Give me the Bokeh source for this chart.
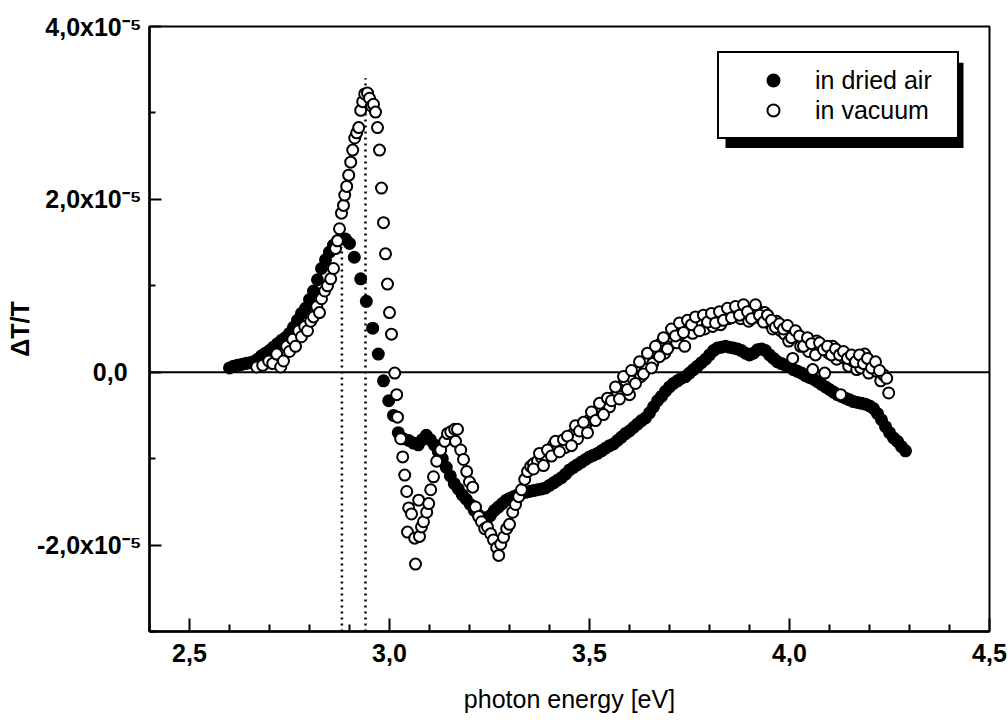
from bokeh.plotting import figure
from bokeh.models import FixedTicker, Span, Legend, LegendItem, BoxAnnotation
from bokeh.embed import file_html
from bokeh.resources import INLINE

# Photon energy in eV, differential transmission dT/T in units of 1e-5
energy_air = [
    2.600, 2.610, 2.620, 2.630, 2.640, 2.650, 2.660, 2.670, 2.680, 2.690,
    2.700, 2.710, 2.720, 2.730, 2.740, 2.750, 2.760, 2.770, 2.780, 2.790,
    2.800, 2.810, 2.820, 2.830, 2.840, 2.850, 2.860, 2.870, 2.880, 2.890,
    2.900, 2.912, 2.928, 2.942, 2.958, 2.972, 2.985, 2.998, 3.010, 3.022,
    3.035, 3.048, 3.060, 3.072, 3.082, 3.092, 3.102, 3.112, 3.122, 3.132,
    3.142, 3.152, 3.162, 3.172, 3.182, 3.192, 3.202, 3.212, 3.222, 3.232,
    3.242, 3.252, 3.262, 3.272, 3.282, 3.292,
    3.30, 3.31, 3.32, 3.33, 3.34, 3.35, 3.36, 3.37, 3.38, 3.39,
    3.40, 3.41, 3.42, 3.43, 3.44, 3.45, 3.46, 3.47, 3.48, 3.49,
    3.50, 3.51, 3.52, 3.53, 3.54, 3.55, 3.56, 3.57, 3.58, 3.59,
    3.60, 3.61, 3.62, 3.63, 3.64, 3.65, 3.66, 3.67, 3.68, 3.69,
    3.70, 3.71, 3.72, 3.73, 3.74, 3.75, 3.76, 3.77, 3.78, 3.79,
    3.80, 3.81, 3.82, 3.83, 3.84, 3.85, 3.86, 3.87, 3.88, 3.89,
    3.90, 3.91, 3.92, 3.93, 3.94, 3.95, 3.96, 3.97, 3.98, 3.99,
    4.00, 4.01, 4.02, 4.03, 4.04, 4.05, 4.06, 4.07, 4.08, 4.09,
    4.10, 4.11, 4.12, 4.13, 4.14, 4.15, 4.16, 4.17, 4.18, 4.19,
    4.20, 4.21, 4.22, 4.23, 4.24, 4.25, 4.26, 4.27, 4.28, 4.29,
]
dtt_air = [
    0.05, 0.07, 0.08, 0.09, 0.10, 0.11, 0.12, 0.15, 0.19, 0.22,
    0.25, 0.29, 0.33, 0.37, 0.40, 0.45, 0.52, 0.60, 0.68, 0.74,
    0.84, 0.94, 1.07, 1.20, 1.30, 1.39, 1.47, 1.52, 1.55, 1.54,
    1.49, 1.33, 1.08, 0.82, 0.51, 0.21, -0.10, -0.33, -0.50, -0.70,
    -0.77, -0.79, -0.82, -0.84, -0.78, -0.73, -0.78, -0.84, -0.92, -1.00,
    -1.10, -1.20, -1.29, -1.35, -1.42, -1.47, -1.53, -1.60, -1.65, -1.68,
    -1.70, -1.66, -1.60, -1.56, -1.52, -1.48,
    -1.46, -1.44, -1.42, -1.40, -1.39, -1.38, -1.37, -1.36, -1.35, -1.34,
    -1.31, -1.28, -1.25, -1.22, -1.18, -1.13, -1.10, -1.07, -1.04, -1.01,
    -0.98, -0.96, -0.94, -0.91, -0.88, -0.85, -0.83, -0.79, -0.75, -0.71,
    -0.68, -0.64, -0.60, -0.56, -0.53, -0.47, -0.40, -0.33, -0.28, -0.22,
    -0.17, -0.13, -0.10, -0.07, -0.05, -0.01, 0.03, 0.07, 0.11, 0.15,
    0.20, 0.25, 0.28, 0.29, 0.30, 0.29, 0.28, 0.27, 0.25, 0.22,
    0.20, 0.22, 0.26, 0.27, 0.25, 0.20, 0.16, 0.12, 0.10, 0.08,
    0.06, 0.03, 0.01, -0.01, -0.04, -0.06, -0.08, -0.11, -0.14, -0.17,
    -0.20, -0.23, -0.26, -0.28, -0.30, -0.32, -0.34, -0.35, -0.36, -0.37,
    -0.39, -0.42, -0.48, -0.55, -0.63, -0.70, -0.76, -0.80, -0.86, -0.91,
]

energy_vac = [
    2.668, 2.683, 2.698, 2.708, 2.718, 2.728, 2.735, 2.743, 2.750, 2.758,
    2.765, 2.773, 2.780, 2.788, 2.795, 2.803, 2.810, 2.818, 2.825, 2.830,
    2.838, 2.845, 2.853, 2.860, 2.865, 2.870, 2.875, 2.880, 2.885, 2.888,
    2.893, 2.898, 2.903, 2.908, 2.913, 2.918, 2.923, 2.928, 2.933, 2.938,
    2.945, 2.950, 2.955, 2.960, 2.965, 2.970, 2.975, 2.980, 2.985, 2.990,
    2.995, 3.000, 3.005, 3.013, 3.018, 3.020, 3.028, 3.033, 3.038, 3.043,
    3.045, 3.048, 3.055, 3.063, 3.065, 3.073, 3.075, 3.080, 3.085, 3.093,
    3.098, 3.103, 3.110, 3.118, 3.128, 3.138, 3.145, 3.153, 3.163, 3.165,
    3.170, 3.178, 3.185, 3.193, 3.200, 3.208, 3.215, 3.223, 3.230, 3.238,
    3.245, 3.253, 3.260, 3.268, 3.273, 3.278, 3.285, 3.293, 3.300, 3.308,
    3.315, 3.323, 3.330, 3.338, 3.345, 3.353, 3.360, 3.370, 3.380, 3.390,
    3.400, 3.410, 3.420, 3.430, 3.440, 3.450, 3.460, 3.470, 3.480, 3.490,
    3.500, 3.510, 3.520, 3.530, 3.540, 3.550, 3.560, 3.570, 3.580, 3.590,
    3.600, 3.608, 3.618, 3.628, 3.638, 3.648, 3.658, 3.668, 3.678, 3.688,
    3.698, 3.708, 3.718, 3.728, 3.738, 3.748, 3.758, 3.768, 3.778, 3.788,
    3.798, 3.808, 3.818, 3.828, 3.838, 3.848, 3.858, 3.868, 3.878, 3.888,
    3.898, 3.908, 3.918, 3.928, 3.938, 3.948, 3.958, 3.968, 3.978, 3.988,
    3.998, 4.008, 4.018, 4.028, 4.038, 4.048, 4.058, 4.068, 4.078, 4.088,
    4.098, 4.108, 4.118, 4.128, 4.138, 4.148, 4.158, 4.168, 4.178, 4.188,
    4.198, 4.208, 4.218, 4.228, 4.235, 4.243, 4.248,
    3.360, 3.375, 3.385, 3.395, 3.405, 3.415, 3.425, 3.435, 3.445, 3.455,
    3.465, 3.475, 3.485, 3.495, 3.505, 3.515, 3.525, 3.535, 3.545, 3.555,
    3.565, 3.575, 3.585, 3.595, 3.605, 3.615, 3.625, 3.635, 3.645, 3.655,
    3.665, 3.675, 3.685, 3.695, 3.705, 3.715, 3.725, 3.735, 3.745, 3.755,
    3.765, 3.775, 3.785, 3.795, 3.805, 3.815, 3.825, 3.835, 3.845, 3.855,
    3.865, 3.875, 3.885, 3.895, 3.905, 3.915, 3.925, 3.935, 3.945, 3.955,
    3.965, 3.975, 3.985, 3.995, 4.005, 4.015, 4.025, 4.035, 4.045, 4.055,
    4.065, 4.075, 4.085, 4.095, 4.105, 4.115, 4.125, 4.135, 4.145, 4.155,
    4.165, 4.175, 4.185, 4.195, 4.205, 4.215, 4.225,
]
dtt_vac = [
    0.06, 0.08, 0.13, 0.10, 0.21, 0.06, 0.13, 0.30, 0.24, 0.38,
    0.30, 0.48, 0.41, 0.53, 0.48, 0.59, 0.64, 0.76, 0.69, 0.85,
    0.94, 1.00, 1.08, 1.20, 1.43, 1.52, 1.66, 1.84, 1.93, 2.05,
    2.15, 2.28, 2.43, 2.57, 2.71, 2.77, 2.83, 3.03, 3.13, 3.22,
    3.23, 3.17, 3.08, 3.10, 3.01, 2.83, 2.57, 2.13, 1.73, 1.37,
    1.02, 0.69, 0.44, -0.01, -0.26, -0.52, -0.77, -0.98, -1.19, -1.38,
    -1.85, -1.57, -1.64, -1.92, -2.22, -1.48, -1.90, -1.79, -1.73, -1.62,
    -1.52, -1.36, -1.21, -1.03, -0.90, -0.80, -0.71, -0.69, -0.66, -0.80,
    -0.66, -0.90, -1.01, -1.15, -1.27, -1.33, -1.56, -1.67, -1.73, -1.81,
    -1.79, -1.87, -1.94, -2.03, -2.12, -1.99, -1.91, -1.81, -1.76, -1.62,
    -1.53, -1.44, -1.36, -1.24, -1.15, -1.09, -1.06, -1.03, -0.99, -0.98,
    -0.90, -0.84, -0.87, -0.83, -0.87, -0.78, -0.71, -0.77, -0.66, -0.62,
    -0.55, -0.51, -0.45, -0.42, -0.36, -0.40, -0.29, -0.23, -0.16, -0.10,
    -0.26, -0.07, 0.01, -0.05, 0.07, 0.15, 0.10, 0.24, 0.33, 0.22,
    0.30, 0.40, 0.34, 0.44, 0.30, 0.50, 0.45, 0.53, 0.59, 0.50,
    0.62, 0.53, 0.63, 0.55, 0.66, 0.62, 0.71, 0.67, 0.62, 0.72,
    0.59, 0.69, 0.73, 0.62, 0.69, 0.57, 0.50, 0.59, 0.48, 0.44,
    0.36, 0.16, 0.45, 0.30, 0.38, 0.24, 0.03, 0.36, 0.27, -0.01,
    0.22, 0.30, 0.15, -0.26, 0.16, 0.07, 0.13, 0.03, 0.05, 0.21,
    -0.01, 0.10, 0.01, -0.10, -0.03, -0.07, -0.24,
    -1.12, -0.94, -1.08, -0.90, -0.97, -0.80, -0.92, -0.78, -0.74, -0.85,
    -0.62, -0.68, -0.58, -0.70, -0.46, -0.56, -0.36, -0.49, -0.30, -0.33,
    -0.17, -0.31, -0.05, -0.20, 0.02, -0.13, 0.12, -0.02, 0.22, 0.05,
    0.30, 0.18, 0.40, 0.27, 0.50, 0.42, 0.57, 0.46, 0.60, 0.55,
    0.64, 0.48, 0.66, 0.58, 0.68, 0.57, 0.70, 0.60, 0.74, 0.63,
    0.76, 0.66, 0.78, 0.70, 0.62, 0.78, 0.66, 0.58, 0.66, 0.60,
    0.52, 0.56, 0.50, 0.54, 0.40, 0.48, 0.42, 0.30, 0.40, 0.33,
    0.20, 0.34, 0.26, 0.30, 0.20, 0.27, 0.20, 0.24, 0.16, 0.20,
    0.12, 0.20, 0.10, 0.16, 0.05, 0.12, 0.02,
]

# Dotted guides at the two peak energies
peak_energy = [2.881, 2.940]
peak_top = [1.45, 3.40]

x_ticks = [2.5, 3.0, 3.5, 4.0, 4.5]
x_tick_labels = ["2,5", "3,0", "3,5", "4,0", "4,5"]
x_minor = [2.4, 2.6, 2.7, 2.8, 2.9, 3.1, 3.2, 3.3, 3.4, 3.6, 3.7, 3.8, 3.9, 4.1, 4.2, 4.3, 4.4]
y_ticks = [-2, 0, 2, 4]
y_tick_labels = ["-2,0x10\u207b\u2075", "0,0\u00a0\u00a0", "2,0x10\u207b\u2075", "4,0x10\u207b\u2075"]
y_minor = [-3, -1, 1, 3]

FONT = "Liberation Sans"

p = figure(width=1008, height=722, x_range=(2.4, 4.5), y_range=(-3, 4),
           output_backend="svg", toolbar_location=None,
           min_border_left=149, min_border_right=19,
           min_border_top=26, min_border_bottom=91)
p.title.visible = False
p.grid.visible = False
p.background_fill_color = "white"
p.border_fill_color = "white"
p.outline_line_color = "black"
p.outline_line_width = 2
p.outline_line_alpha = 1

# x axis
xa = p.xaxis[0]
xa.ticker = FixedTicker(ticks=x_ticks, minor_ticks=x_minor)
xa.major_label_overrides = dict(zip(x_ticks, x_tick_labels))
xa.axis_label = "photon energy [eV]"
xa.axis_label_text_font = FONT
xa.axis_label_text_font_size = "25px"
xa.axis_label_text_font_style = "normal"
xa.axis_label_text_color = "black"
xa.axis_label_standoff = 20
xa.major_label_text_font = FONT
xa.major_label_text_font_size = "25px"
xa.major_label_text_font_style = "bold"
xa.major_label_text_color = "black"
xa.major_label_standoff = 12
xa.axis_line_width = 2.5
xa.major_tick_in = 13
xa.major_tick_out = 0
xa.minor_tick_in = 7
xa.minor_tick_out = 0
xa.major_tick_line_width = 2
xa.minor_tick_line_width = 2

# y axis
ya = p.yaxis[0]
ya.ticker = FixedTicker(ticks=y_ticks, minor_ticks=y_minor)
ya.major_label_overrides = dict(zip(y_ticks, y_tick_labels))
ya.axis_label = "ΔT/T"
ya.axis_label_text_font = FONT
ya.axis_label_text_font_size = "25px"
ya.axis_label_text_font_style = "bold"
ya.axis_label_text_color = "black"
ya.axis_label_standoff = 0
ya.major_label_text_font = FONT
ya.major_label_text_font_size = "25px"
ya.major_label_text_font_style = "bold"
ya.major_label_text_color = "black"
ya.major_label_standoff = 8
ya.axis_line_width = 2.5
ya.major_tick_in = 12
ya.major_tick_out = 0
ya.minor_tick_in = 6
ya.minor_tick_out = 0
ya.major_tick_line_width = 2
ya.minor_tick_line_width = 2

# zero line and peak guides
p.add_layout(Span(location=0, dimension="width", line_color="black",
                  line_width=2, level="underlay"))
p.segment(x0=peak_energy, y0=[-3] * len(peak_energy), x1=peak_energy, y1=peak_top,
          line_color="black", line_width=2.5, line_dash="2 4", level="underlay")

r_air = p.scatter(energy_air, dtt_air, marker="circle", size=11,
                  fill_color="black", line_color="black", line_width=2)
r_vac = p.scatter(energy_vac, dtt_vac, marker="circle", size=11,
                  fill_color="white", line_color="black", line_width=2)

# legend with drop shadow
p.add_layout(BoxAnnotation(left=3.84, right=4.435, top=3.581, bottom=2.593,
                           fill_color="black", fill_alpha=1, line_color=None))
legend = Legend(items=[LegendItem(label="in dried air", renderers=[r_air]),
                       LegendItem(label="in vacuum", renderers=[r_vac])],
                location=(568, 492), margin=0, padding=12, spacing=0,
                glyph_width=84, glyph_height=30, label_height=30,
                label_width=130, label_standoff=0,
                border_line_color="black", border_line_width=2,
                border_line_alpha=1,
                background_fill_color="white", background_fill_alpha=1,
                label_text_font=FONT, label_text_font_size="25px",
                label_text_color="black")
p.add_layout(legend)

open("out.html", "w").write(file_html(p, INLINE))
